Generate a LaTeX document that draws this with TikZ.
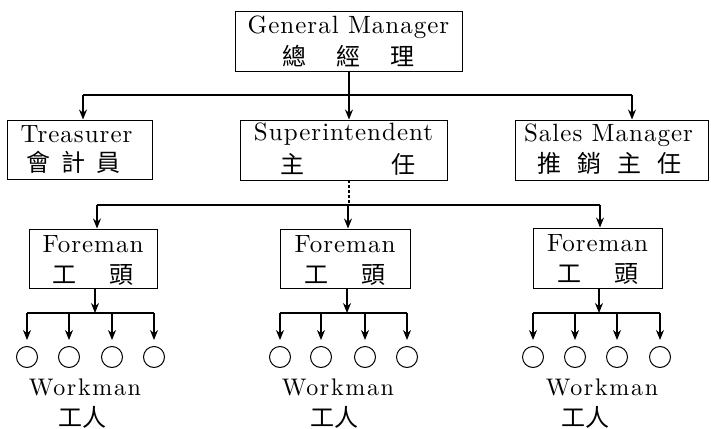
\documentclass[tikz,border=0pt]{standalone}
\usepackage{fontspec}
\newfontfamily\cjk{Noto Sans CJK TC}
\newfontfamily\lmten{lmroman10-regular.otf}[LetterSpace=4]
\newfontfamily\lmtenw{lmroman10-regular.otf}[LetterSpace=7]
\usetikzlibrary{arrows.meta}
\begin{document}
\begin{tikzpicture}[x=1pt,y=-1pt,
  box/.style={draw, line width=1pt, inner sep=0pt},
  en/.style={font=\lmten\fontsize{25}{25}\selectfont, inner sep=0pt, anchor=base},
  enw/.style={font=\lmtenw\fontsize{24}{24}\selectfont, inner sep=0pt, anchor=base},
  zh/.style={font=\fontsize{24}{24}\selectfont\cjk, inner sep=0pt},
  wk/.style={draw, circle, line width=1pt, minimum size=21pt, inner sep=0pt},
  ln/.style={line width=1.1pt},
  arr/.style={line width=1.1pt, -{Stealth[length=10pt,width=8pt]}}]
\path[use as bounding box] (0,0) rectangle (711,428);

% top box
\node[box, minimum width=227pt, minimum height=59pt] (gm) at (348.5,41.5) {};
\node[en] (gmE) at ([yshift=-22pt]gm.north) {General Manager};
\node[zh] (gmZ) at ([yshift=-45pt]gm.north) {總\hspace{30pt}經\hspace{30pt}理};

% second row
\node[box, minimum width=145pt, minimum height=59pt] (tr) at (79.5,149.5) {};
\node[en] (trE) at ([yshift=-23pt, xshift=-3pt]tr.north) {Treasurer};
\node[zh] (trZ) at ([yshift=-43pt, xshift=-6pt]tr.north) {會\hspace{11pt}計\hspace{11pt}員};

\node[box, minimum width=207pt, minimum height=60pt] (sup) at (343.5,150) {};
\node[en] (supE) at ([yshift=-21pt]sup.north) {Superintendent};
\node[zh] (supZ) at ([yshift=-45pt, xshift=4pt]sup.north) {主\hspace{87pt}任};

\node[box, minimum width=193pt, minimum height=60pt] (sm) at (611.5,150) {};
\node[en] (smE) at ([yshift=-22pt, xshift=-3pt]sm.north) {Sales Manager};
\node[zh] (smZ) at ([yshift=-44pt, xshift=-2pt]sm.north) {推\hspace{16pt}銷\hspace{16pt}主\hspace{16pt}任};

% foremen
\node[box, minimum width=128pt, minimum height=59pt] (fm1) at (93,258.5) {};
\node[box, minimum width=130pt, minimum height=59pt] (fm2) at (345,258.5) {};
\node[box, minimum width=129pt, minimum height=60pt] (fm3) at (597.5,258) {};
\foreach \f in {fm1,fm2,fm3}{
  \node[en] (\f E) at ([yshift=-24pt]\f.north) {Foreman};
  \node[zh] (\f Z) at ([yshift=-46pt]\f.north) {工\hspace{33pt}頭};
}

% top bus
\coordinate (b1L) at (83,95);
\coordinate (b1M) at (349,95);
\coordinate (b1R) at (632,95);
\draw[ln] (b1M |- gm.south) -- (b1M);
\draw[ln] (b1L) -- (b1R);
\draw[arr] (b1L) -- (b1L |- tr.north);
\draw[arr] (b1M) -- (b1M |- sup.north);
\draw[arr] (b1R) -- (b1R |- sm.north);

% second bus
\coordinate (b2L) at (97,205);
\coordinate (b2M) at (348,205);
\coordinate (b2R) at (600,205);
\draw[ln, densely dashed] (349,180) -- (349,205);
\draw[ln] (b2L) -- (b2R);
\draw[arr] (b2L) -- (b2L |- fm1.north);
\draw[arr] (b2M) -- (b2M |- fm2.north);
\draw[arr] (b2R) -- (b2R |- fm3.north);

% worker groups
\foreach \g/\fx/\a/\b/\c/\d/\wx/\zx in {
   1/95/27/69/112/154/85/82,
   2/347/280/321/365/407/338/334,
   3/599/533/575/617/660/602/585}{
  \coordinate (fb\g) at (\fx,313);
  \draw[arr] (\fx,288) -- (fb\g);
  \coordinate (wl\g) at (\a,313);
  \coordinate (wr\g) at (\d,313);
  \draw[ln] (wl\g) -- (wr\g);
  \node[wk] (w\g a) at (\a,357) {};
  \node[wk] (w\g b) at (\b,357) {};
  \node[wk] (w\g c) at (\c,357) {};
  \node[wk] (w\g d) at (\d,357) {};
  \foreach \k in {a,b,c,d}{
    \draw[arr, shorten >=6pt] (w\g\k.north |- wl\g) -- (w\g\k.north);
  }
  \node[enw] (wE\g) at (\wx,395) {Workman};
  \node[zh] (wZ\g) at (\zx,417) {工人};
}
\end{tikzpicture}
\end{document}
